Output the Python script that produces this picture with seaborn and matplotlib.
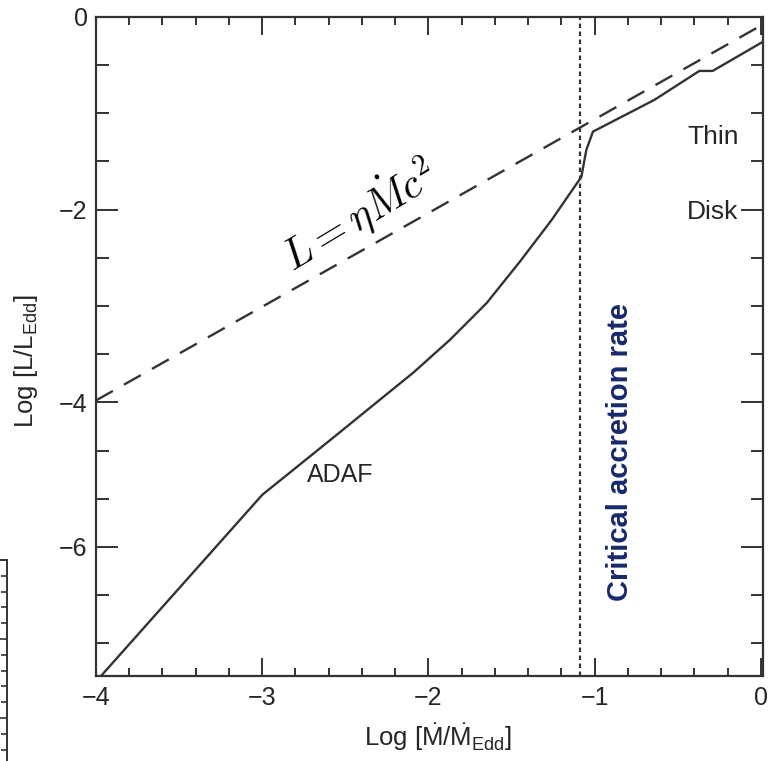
import numpy as np
import pandas as pd
import matplotlib
matplotlib.use("Agg")
import matplotlib.pyplot as plt
import seaborn as sns
from matplotlib.ticker import FixedLocator, MultipleLocator

# dados (ADAF -> disco fino)
adaf_x = [-3.97, -3.00, -2.59, -2.09, -1.87, -1.65, -1.45, -1.26, -1.08, -1.05, -1.01, -0.64, -0.37, -0.29, 0.01]
adaf_y = [-6.84, -4.96, -4.39, -3.69, -3.35, -2.97, -2.54, -2.11, -1.66, -1.38, -1.19, -0.86, -0.56, -0.56, -0.26]

# L = eta Mdot c^2
eff_x = [-4.0, 0.01]
eff_y = [-3.98, -0.08]

critical_rate = -1.09

xticks = [-4, -3, -2, -1, 0]
xtick_labels = ["\u22124", "\u22123", "\u22122", "\u22121", "0"]
yticks = [0, -2, -4, -5.5]
ytick_labels = ["0", "\u22122", "\u22124", "\u22126"]

sns.set_style("ticks")
plt.rcParams["font.family"] = ["Liberation Sans", "DejaVu Sans"]
plt.rcParams["mathtext.fontset"] = "custom"
plt.rcParams["mathtext.rm"] = "Liberation Sans"
plt.rcParams["mathtext.it"] = "Liberation Sans:italic"
plt.rcParams["mathtext.bf"] = "Liberation Sans:bold"

ink = "#333333"
txt = "#262626"
fig = plt.figure(figsize=(7.68, 7.61), dpi=100)
ax = fig.add_axes([0.125, 0.1117, 0.8685, 0.866])

df_adaf = pd.DataFrame({"x": adaf_x, "y": adaf_y})
df_eff = pd.DataFrame({"x": eff_x, "y": eff_y})

sns.lineplot(data=df_adaf, x="x", y="y", ax=ax, color=ink, lw=1.7, sort=False)
sns.lineplot(data=df_eff, x="x", y="y", ax=ax, color=ink, lw=1.7)
ax.lines[-1].set_dashes((8.2, 5.4))
ax.axvline(critical_rate, color=ink, lw=1.6, dashes=(2.0, 1.6))

ax.set_xlim(-4, 0.013)
ax.set_ylim(-6.84, 0)

ax.xaxis.set_major_locator(FixedLocator(xticks))
ax.set_xticklabels(xtick_labels)
ax.xaxis.set_minor_locator(MultipleLocator(0.2))
ax.yaxis.set_major_locator(FixedLocator(yticks))
ax.set_yticklabels(ytick_labels)
ax.yaxis.set_minor_locator(MultipleLocator(0.5))

ax.tick_params(which="both", direction="in", top=True, right=True,
               colors=ink, labelcolor=txt, labelsize=18, width=1.4)
ax.tick_params(axis="x", which="major", length=13, pad=7)
ax.tick_params(axis="x", which="minor", length=6)
ax.tick_params(axis="y", which="major", length=16, pad=6)
ax.tick_params(axis="y", which="minor", length=9)
for s in ax.spines.values():
    s.set_color(ink)
    s.set_linewidth(1.6)

ax.set_xlabel(r"Log [$\dot{\mathrm{M}}/\dot{\mathrm{M}}_{\mathrm{Edd}}$]", fontsize=18.5, color=txt)
ax.set_ylabel(r"Log [L/L$_{\mathrm{Edd}}$]", fontsize=18.5, color=txt)
ax.xaxis.set_label_coords(0.513, -0.068)
ax.yaxis.set_label_coords(-0.084, 0.478)

ax.text(-2.42, -2.05, r"$L = \eta\dot{M}c^2$", fontsize=30, rotation=31,
        rotation_mode="anchor", ha="center", va="center", math_fontfamily="cm", color="black")
ax.text(-2.53, -4.75, "ADAF", fontsize=18, ha="center", va="center", color=txt)
ax.text(-0.29, -1.25, "Thin", fontsize=19, ha="center", va="center", color=txt)
ax.text(-0.29, -2.02, "Disk", fontsize=19, ha="center", va="center", color=txt)
ax.text(-0.85, -4.51, "Critical accretion rate", fontsize=21, fontweight="bold",
        rotation=90, ha="center", va="center", color="#17296b")

# pedaco de outro grafico no canto inferior esquerdo
ax2 = fig.add_axes([-50 / 768, 0, 57 / 768, 201 / 761])
ax2.set_xlim(0, 1)
ax2.set_ylim(0, 201)
for side in ["left", "bottom"]:
    ax2.spines[side].set_visible(False)
for side in ["right", "top"]:
    ax2.spines[side].set_color(ink)
    ax2.spines[side].set_linewidth(1.4)
ax2.set_xticks([])
ax2.yaxis.tick_right()
ax2.yaxis.set_major_locator(FixedLocator([43, 122]))
ax2.yaxis.set_minor_locator(FixedLocator(np.arange(11.4, 200, 15.8)))
ax2.tick_params(which="both", direction="in", colors=ink, width=1.2, labelright=False)
ax2.tick_params(which="major", length=7)
ax2.tick_params(which="minor", length=4)
ax2.patch.set_alpha(0)

fig.savefig("out.png", dpi=100)
